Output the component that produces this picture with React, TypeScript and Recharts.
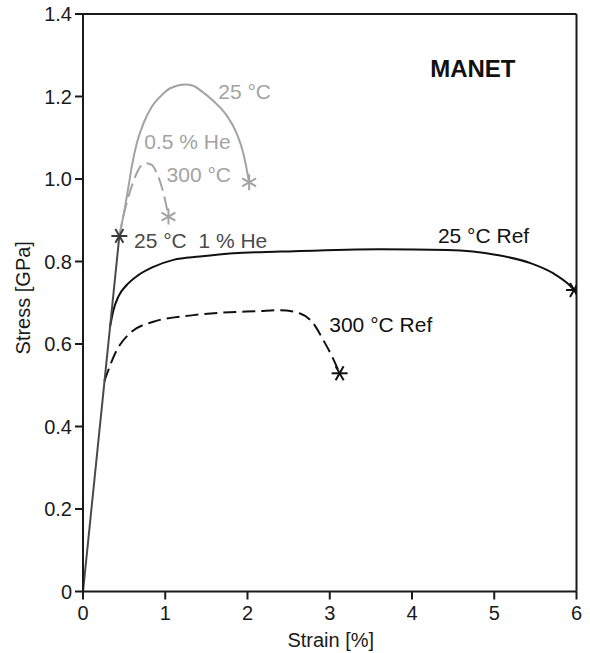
import React from 'react';
import {
  ComposedChart,
  Line,
  XAxis,
  YAxis,
  ReferenceLine,
  ReferenceDot,
  Label,
} from 'recharts';

// strain [%] / stress [GPa]
const strain1He = [0, 0.442];
const stress1He = [0, 0.862];

const strainHe05rt = [0.442, 0.511, 0.552, 0.592, 0.653, 0.734, 0.836, 0.977, 1.06, 1.241, 1.34, 1.44, 1.585, 1.75, 1.87, 1.95, 2.02];
const stressHe05rt = [0.862, 0.932, 0.98, 1.029, 1.086, 1.134, 1.175, 1.207, 1.22, 1.229, 1.226, 1.213, 1.189, 1.153, 1.11, 1.062, 0.992];

const strainHe05ht = [0.442, 0.49, 0.53, 0.59, 0.653, 0.714, 0.767, 0.836, 0.897, 0.957, 0.998, 1.039];
const stressHe05ht = [0.862, 0.909, 0.941, 0.981, 1.014, 1.034, 1.038, 1.034, 1.014, 0.981, 0.949, 0.909];

const strainRefRt = [0.329, 0.37, 0.43, 0.532, 0.673, 0.856, 1.1, 1.42, 1.83, 2.4, 3.61, 4.43, 5.03, 5.44, 5.72, 5.89, 5.97];
const stressRefRt = [0.642, 0.682, 0.715, 0.743, 0.767, 0.787, 0.804, 0.812, 0.82, 0.824, 0.83, 0.828, 0.816, 0.796, 0.771, 0.747, 0.731];

const strainRefHt = [0.26, 0.41, 0.57, 0.856, 1.34, 2.15, 2.4, 2.64, 2.8, 2.92, 3.03, 3.12];
const stressRefHt = [0.51, 0.585, 0.626, 0.654, 0.67, 0.68, 0.682, 0.674, 0.65, 0.61, 0.569, 0.529];

const xTicks = [0, 1, 2, 3, 4, 5, 6];
const yTicks = [0, 0.2, 0.4, 0.6, 0.8, 1.0, 1.2, 1.4];

const curveLabels = [
  { x: 1.965, y: 1.213, text: '25 °C', color: '#a3a3a3' },
  { x: 1.27, y: 1.09, text: '0.5 % He', color: '#a3a3a3' },
  { x: 1.408, y: 1.012, text: '300 °C', color: '#a3a3a3' },
  { x: 1.43, y: 0.852, text: '25 °C\u00a0\u00a01 % He', color: '#4a4a4a' },
  { x: 4.87, y: 0.862, text: '25 °C Ref', color: '#111' },
  { x: 3.62, y: 0.648, text: '300 °C Ref', color: '#111' },
];

const toPoints = (xs: number[], ys: number[]) => xs.map((x, i) => ({ x, y: ys[i] }));

const AXIS = '#1a1a1a';

// asterisk drawn at the last point of a curve (fracture)
const endStar = (len: number, color: string, rot: number) => (props: any) => {
  const { cx, cy, index } = props;
  if (index !== len - 1) return <g key={`d-${index}`} />;
  const r = 8;
  return (
    <g key={`d-${index}`}>
      {[0, 60, 120].map((a) => {
        const t = ((a + rot) * Math.PI) / 180;
        return (
          <line
            key={a}
            x1={cx - r * Math.cos(t)}
            y1={cy - r * Math.sin(t)}
            x2={cx + r * Math.cos(t)}
            y2={cy + r * Math.sin(t)}
            stroke={color}
            strokeWidth={2}
          />
        );
      })}
    </g>
  );
};

const App = () => {
  const d1He = toPoints(strain1He, stress1He);
  const dRt = toPoints(strainHe05rt, stressHe05rt);
  const dHt = toPoints(strainHe05ht, stressHe05ht);
  const dRefRt = toPoints(strainRefRt, stressRefRt);
  const dRefHt = toPoints(strainRefHt, stressRefHt);

  return (
    <div style={{ position: 'absolute', left: 0, top: 0, fontFamily: '"Liberation Sans", Arial, sans-serif' }}>
      <ComposedChart width={590} height={653} margin={{ top: 14, right: 13.5, left: 0, bottom: 0 }}>
        <XAxis
          type="number"
          dataKey="x"
          domain={[0, 6]}
          ticks={xTicks}
          allowDataOverflow
          height={61.5}
          tickSize={8}
          tickMargin={6}
          tick={{ fontSize: 20, fill: AXIS }}
          stroke={AXIS}
          strokeWidth={2}
        >
          <Label
            content={({ viewBox }: any) => (
              <text x={viewBox.x + viewBox.width / 2 + 1} y={viewBox.y + 48} textAnchor="middle" dominantBaseline="central" fontSize={20} fill={AXIS}>
                Strain [%]
              </text>
            )}
          />
        </XAxis>
        <YAxis
          type="number"
          dataKey="y"
          domain={[0, 1.4]}
          ticks={yTicks}
          allowDataOverflow
          width={83}
          tickSize={8}
          tickMargin={3}
          tickFormatter={(v: number) => (v === 0 ? '0' : v.toFixed(1))}
          tick={{ fontSize: 20, fill: AXIS }}
          stroke={AXIS}
          strokeWidth={2}
        >
          <Label
            content={({ viewBox }: any) => {
              const cx = 23;
              const cy = viewBox.y + viewBox.height / 2 - 5;
              return (
                <text x={cx} y={cy} transform={`rotate(-90 ${cx} ${cy})`} textAnchor="middle" dominantBaseline="central" fontSize={20} fill={AXIS}>
                  Stress [GPa]
                </text>
              );
            }}
          />
        </YAxis>
        <ReferenceLine y={1.4} stroke={AXIS} strokeWidth={2} />
        <ReferenceLine x={6} stroke={AXIS} strokeWidth={2} />

        <Line data={dRefHt} dataKey="y" type="monotone" stroke="#111" strokeWidth={2} strokeDasharray="13 6" dot={endStar(dRefHt.length, '#111', 0)} activeDot={false} isAnimationActive={false} />
        <Line data={dRefRt} dataKey="y" type="monotone" stroke="#111" strokeWidth={2} dot={endStar(dRefRt.length, '#111', 0)} activeDot={false} isAnimationActive={false} />
        <Line data={dHt} dataKey="y" type="monotone" stroke="#a3a3a3" strokeWidth={2} strokeDasharray="14 6" dot={endStar(dHt.length, '#a3a3a3', 30)} activeDot={false} isAnimationActive={false} />
        <Line data={dRt} dataKey="y" type="monotone" stroke="#a3a3a3" strokeWidth={2} dot={endStar(dRt.length, '#a3a3a3', 30)} activeDot={false} isAnimationActive={false} />
        <Line data={d1He} dataKey="y" type="linear" stroke="#4a4a4a" strokeWidth={2} dot={endStar(d1He.length, '#3a3a3a', 0)} activeDot={false} isAnimationActive={false} />

        {curveLabels.map((l) => (
          <ReferenceDot key={l.text} x={l.x} y={l.y} r={0} fill="none" stroke="none"
            label={{ value: l.text, position: 'center', fill: l.color, fontSize: 21 }} />
        ))}
        <ReferenceDot x={4.74} y={1.269} r={0} fill="none" stroke="none"
          label={{ value: 'MANET', position: 'center', fill: '#111', fontSize: 24, fontWeight: 'bold' }} />
      </ComposedChart>
    </div>
  );
};

export default App;
